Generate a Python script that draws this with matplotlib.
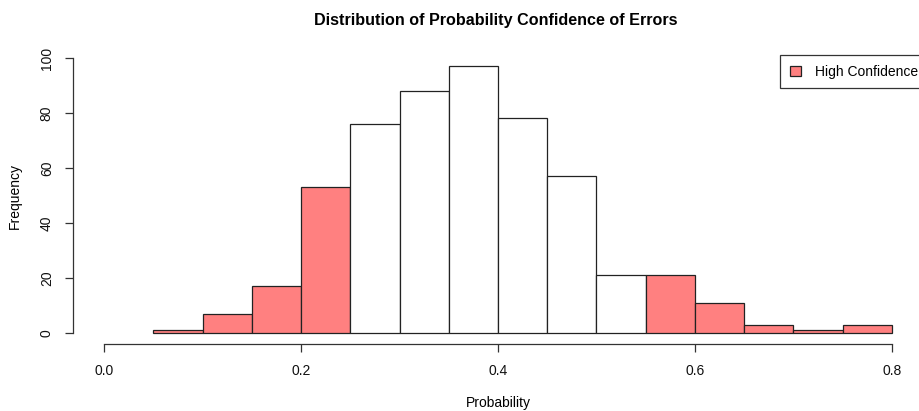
import matplotlib.pyplot as plt
import numpy as np

plt.rcParams['font.family'] = ['Liberation Sans', 'DejaVu Sans']

# histogram bins (width 0.05) and counts
bin_edges = [0.05, 0.10, 0.15, 0.20, 0.25, 0.30, 0.35, 0.40,
             0.45, 0.50, 0.55, 0.60, 0.65, 0.70, 0.75, 0.80]
counts = [1, 7, 17, 53, 76, 88, 97, 78, 57, 21, 21, 11, 3, 1, 3]
low_cut = 0.25
high_cut = 0.55

W, H = 920, 411
fig = plt.figure(figsize=(W / 100, H / 100), dpi=100)
ax = fig.add_axes([72.5 / W, (H - 344) / H, 851 / W, 297 / H])

left = np.array(bin_edges[:-1])
colors = ['#ff8080' if (l < low_cut - 1e-9 or l >= high_cut - 1e-9) else 'white'
          for l in left]
ax.bar(left, counts, width=0.05, align='edge', color=colors,
       edgecolor='#222222', linewidth=0.9)

ax.set_xlim(-0.032, 0.832)
ax.set_ylim(-4, 104)

for s in ['top', 'right']:
    ax.spines[s].set_visible(False)
ax.spines['left'].set_bounds(0, 100)
ax.spines['bottom'].set_bounds(0, 0.8)
for s in ['left', 'bottom']:
    ax.spines[s].set_linewidth(0.9)
    ax.spines[s].set_color('#333333')

ax.set_xticks([0.0, 0.2, 0.4, 0.6, 0.8])
ax.set_xticklabels(['0.0', '0.2', '0.4', '0.6', '0.8'])
ax.set_yticks([0, 20, 40, 60, 80, 100])
ax.tick_params(axis='both', direction='out', length=5.5, width=0.9,
               color='#333333', labelsize=10, labelcolor='#111111')
ax.tick_params(axis='x', pad=9)
ax.tick_params(axis='y', pad=8)
for t in ax.get_yticklabels():
    t.set_rotation(90)
    t.set_va('center')

fig.text(496 / W, 1 - 20 / H, 'Distribution of Probability Confidence of Errors',
         ha='center', va='center', fontsize=11.6, fontweight='bold')
fig.text(498 / W, 1 - 403 / H, 'Probability', ha='center', va='center', fontsize=10)
fig.text(15 / W, 1 - 196 / H, 'Frequency', ha='center', va='center',
         rotation=90, fontsize=10)

handle = plt.Rectangle((0, 0), 1, 1, facecolor='#ff8080', edgecolor='#222222',
                       linewidth=0.9)
leg = fig.legend([handle], ['High Confidence'], loc='upper left',
                 bbox_to_anchor=(780 / W, 1 - 55 / H), borderaxespad=0,
                 fancybox=False, framealpha=1, edgecolor='#333333',
                 fontsize=10, handlelength=0.8, handleheight=0.8,
                 handletextpad=1.0, borderpad=0.7)
leg.get_frame().set_linewidth(0.9)

fig.savefig('out.png', dpi=100)
